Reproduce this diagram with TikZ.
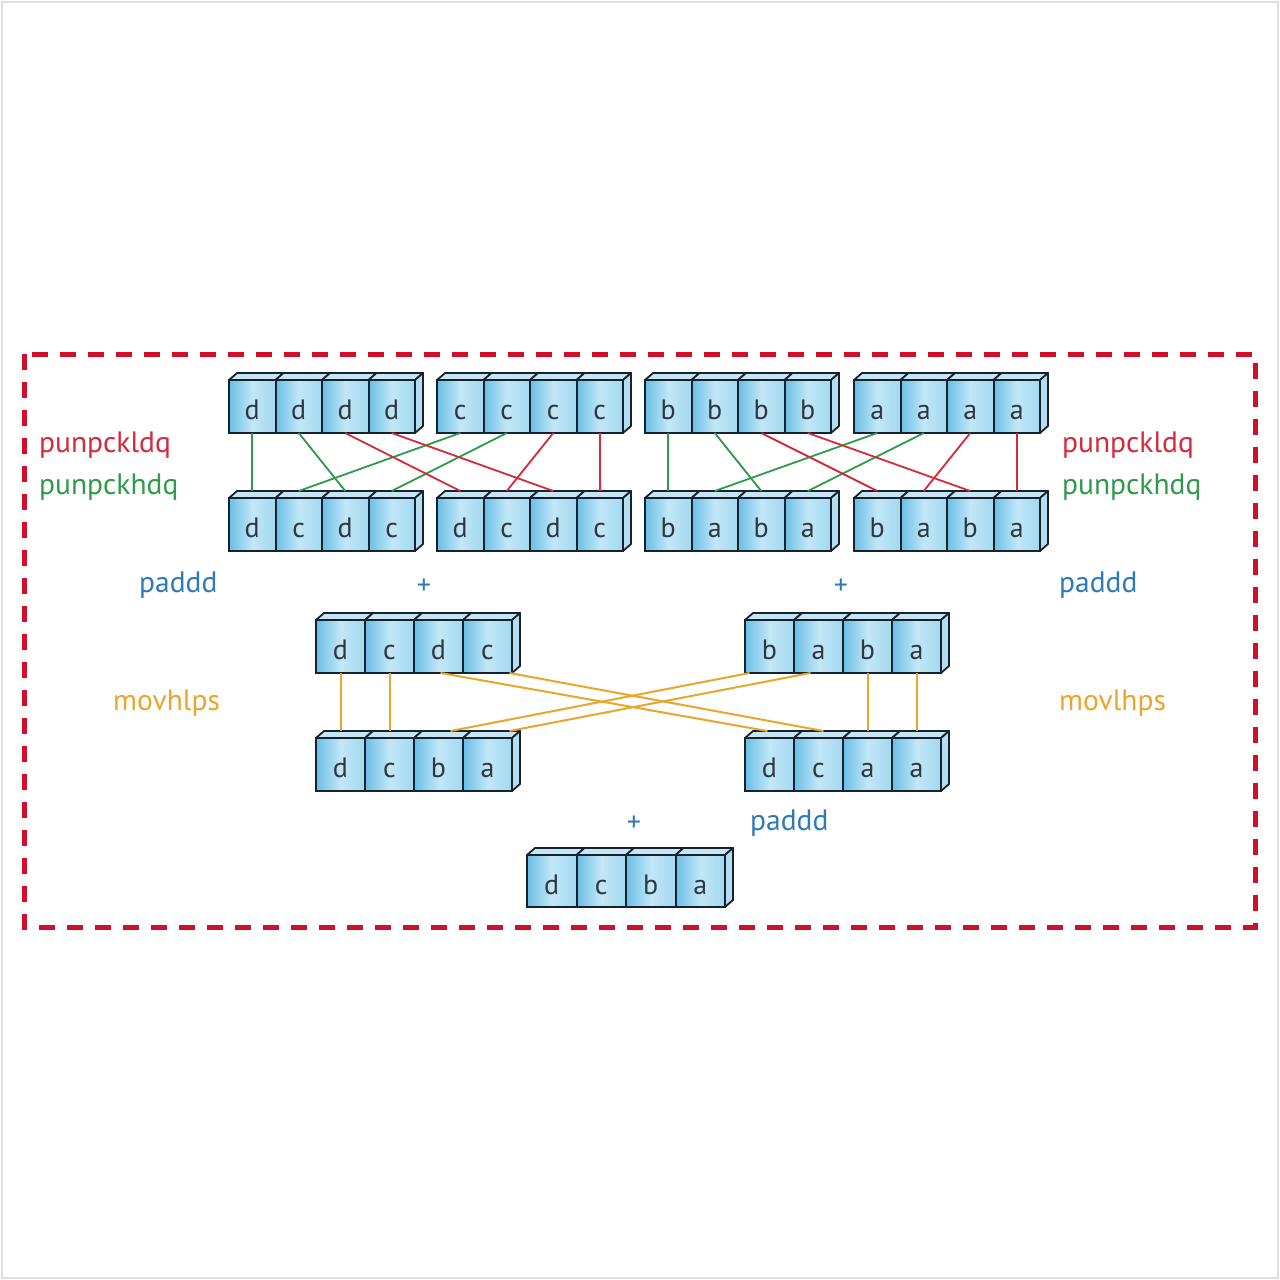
\documentclass[tikz,border=0pt]{standalone}
\usepackage{fontspec}
\setmainfont{PT Sans}
\usetikzlibrary{calc}
\definecolor{cred}{HTML}{D42A3C}
\definecolor{cframe}{HTML}{D0102A}
\definecolor{cgreen}{HTML}{2E9A4A}
\definecolor{cblue}{HTML}{2C7AB8}
\definecolor{corange}{HTML}{E9A62C}
\definecolor{outl}{HTML}{16222E}
\definecolor{cellL}{HTML}{6ABEE5}
\definecolor{cellM}{HTML}{C2E7F7}
\definecolor{cellR}{HTML}{A2D8F0}
\definecolor{topc}{HTML}{C6E6F5}
\definecolor{sidec}{HTML}{B4DDF1}
\tikzset{
  cell/.style={draw=outl, line width=2pt, inner sep=0pt, outer sep=0pt,
    left color=cellL, right color=cellR, middle color=cellM,
    font=\fontsize{28}{30}\selectfont, text=outl!90, text height=26pt, text depth=0pt},
  topface/.style={draw=outl, line width=1.8pt, fill=topc, line join=round},
  sideface/.style={draw=outl, line width=1.8pt, fill=sidec, line join=round},
  lbl/.style={font=\fontsize{29.5}{32}\selectfont, inner sep=0pt, anchor=west},
  plus/.style={font=\fontsize{28}{30}\selectfont, text=cblue, inner sep=0pt},
  gline/.style={draw=cgreen, line width=1.8pt},
  rline/.style={draw=cred, line width=1.8pt},
  yline/.style={draw=corange, line width=2pt},
}
\newcommand{\regrow}[6]{%
  \foreach \l [count=\k] in {#6} {
    \pgfmathsetmacro{\xl}{#2+(\k-1)*#4}
    \pgfmathsetmacro{\xr}{#2+\k*#4}
    \pgfmathsetmacro{\xc}{#2+(\k-0.5)*#4}
    \pgfmathsetmacro{\yc}{#3+#5/2}
    \draw[topface] (\xl,#3) -- (\xl+8,#3-7) -- (\xr+8,#3-7) -- (\xr,#3) -- cycle;
    \node[cell, minimum width=#4pt, minimum height=#5pt] (#1\k) at (\xc,\yc) {\l};
  }
  \pgfmathsetmacro{\xe}{#2+4*#4}
  \draw[sideface] (\xe,#3) -- (\xe+8,#3-7) -- (\xe+8,#3-7+#5) -- (\xe,#3+#5) -- cycle;
}
\begin{document}
\begin{tikzpicture}[x=1pt,y=-1pt]
\useasboundingbox (0,0) rectangle (1280,1280);
\fill[white] (0,0) rectangle (1280,1280);
\draw[black!12, line width=2pt] (2,2) rectangle (1278,1278);
\draw[cframe, line width=5pt, dash pattern=on 16pt off 12pt] (24,354) rectangle (1255,927);

% top rows
\regrow{Ta}{229}{380}{46.5}{53}{d,d,d,d}
\regrow{Tb}{437}{380}{46.5}{53}{c,c,c,c}
\regrow{Tc}{645}{380}{46.5}{53}{b,b,b,b}
\regrow{Td}{854}{380}{46.5}{53}{a,a,a,a}
\regrow{Ba}{229}{498}{46.5}{53}{d,c,d,c}
\regrow{Bb}{437}{498}{46.5}{53}{d,c,d,c}
\regrow{Bc}{645}{498}{46.5}{53}{b,a,b,a}
\regrow{Bd}{854}{498}{46.5}{53}{b,a,b,a}
% middle rows
\regrow{Ma}{316}{620}{49}{53}{d,c,d,c}
\regrow{Mb}{745}{620}{49}{53}{b,a,b,a}
\regrow{Ra}{316}{738}{49}{53}{d,c,b,a}
\regrow{Rb}{745}{738}{49}{53}{d,c,a,a}
% final
\regrow{F}{527}{855}{49.5}{52}{d,c,b,a}

% unpack connectors
\foreach \t/\u/\b/\c in {Ta/Tb/Ba/Bb, Tc/Td/Bc/Bd} {
  \draw[gline] (\t1.south) -- ($(\b1.north)+(0,-7)$);
  \draw[gline] (\t2.south) -- ($(\b3.north)+(0,-7)$);
  \draw[gline] (\u1.south) -- ($(\b2.north)+(0,-7)$);
  \draw[gline] (\u2.south) -- ($(\b4.north)+(0,-7)$);
  \draw[rline] (\t3.south) -- ($(\c1.north)+(0,-7)$);
  \draw[rline] (\t4.south) -- ($(\c3.north)+(0,-7)$);
  \draw[rline] (\u3.south) -- ($(\c2.north)+(0,-7)$);
  \draw[rline] (\u4.south) -- ($(\c4.north)+(0,-7)$);
}
% movhlps / movlhps connectors
\draw[yline] (Ma1.south) -- ($(Ra1.north)+(0,-7)$);
\draw[yline] (Ma2.south) -- ($(Ra2.north)+(0,-7)$);
\draw[yline] (Mb3.south) -- ($(Rb3.north)+(0,-7)$);
\draw[yline] (Mb4.south) -- ($(Rb4.north)+(0,-7)$);
\draw[yline] ($(Ma3.south)+(2,0)$) -- ($(Rb1.north)+(-2,-7)$);
\draw[yline] ($(Ma4.south)+(22,0)$) -- ($(Rb2.north)+(5,-7)$);
\draw[yline] ($(Mb1.south)+(-20,0)$) -- ($(Ra3.north)+(12,-7)$);
\draw[yline] ($(Mb2.south)+(-8,0)$) -- ($(Ra4.north)+(22,-7)$);

% labels
\node[lbl, text=cred] (l1) at (39,445) {punpckldq};
\node[lbl, text=cgreen] (l2) at (39,487) {punpckhdq};
\node[lbl, text=cred] (r1) at (1062,445) {punpckldq};
\node[lbl, text=cgreen] (r2) at (1062,487) {punpckhdq};
\node[lbl, text=cblue] (l3) at (139,585) {paddd};
\node[lbl, text=cblue] (r3) at (1059,585) {paddd};
\node[lbl, text=corange] (l4) at (113,703) {movhlps};
\node[lbl, text=corange] (r4) at (1059,703) {movlhps};
\node[lbl, text=cblue] (b3) at (750,823) {paddd};
\node[plus] (p1) at (424,587) {+};
\node[plus] (p2) at (841,587) {+};
\node[plus] (p3) at (634,824) {+};
\end{tikzpicture}
\end{document}
